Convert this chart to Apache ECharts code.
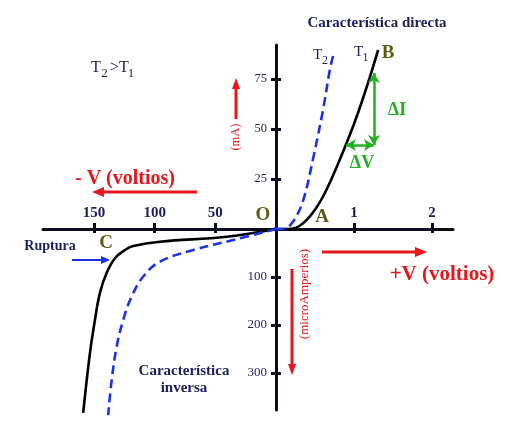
<!DOCTYPE html>
<html>
<head>
<meta charset="utf-8">
<script src="https://cdn.jsdelivr.net/npm/echarts@6/dist/echarts.min.js"></script>
<style>html,body{margin:0;padding:0;background:#fff}#c{width:515px;height:437px}</style>
</head>
<body>
<div id="c"></div>
<script>
// ---- Data ----
// Forward characteristic: voltage (V) vs current (mA)
const fwdV_T1 = [0, 0.14, 0.2, 0.3, 0.4, 0.5, 0.6, 0.7, 0.8, 0.9, 1.0, 1.1, 1.2, 1.31];
const fwdI_T1 = [0, 0, 0.1, 1.5, 4.8, 9.6, 16, 24, 33, 42.5, 52.5, 63.5, 75.5, 89.5];
const fwdV_T2 = [0, 0.094, 0.22, 0.35, 0.48, 0.61, 0.69, 0.735];
const fwdI_T2 = [0, 0, 3.7, 14.5, 36, 61, 79.5, 87];
// Reverse characteristic: voltage (V, magnitude) vs current (microA, magnitude)
const revV_T1 = [0, 40.6, 95.6, 117.6, 124.5, 132.7, 139.6, 145.1, 149.2, 153.3, 158.9];
const revI_T1 = [0, 16, 26.5, 35.4, 43.75, 61, 91.7, 133, 189.6, 258, 383];
const revV_T2 = [0, 35.2, 68.2, 95.6, 109.4, 119, 125.9, 131.3, 135.4, 138.3];
const revI_T2 = [0, 23, 43.75, 68, 99, 141, 189.6, 245, 314.6, 387.5];
// Delta arrows on T1 (forward)
const deltaV = [0.897, 1.256];
const deltaI = [42, 78];
// Tick labels
const fwdVTicks = [1, 2];
const fwdITicks = [25, 50, 75];
const revVTicks = [50, 100, 150];
const revITicks = [100, 200, 300];

const zip = (a, b) => a.map((v, i) => [v, b[i]]);

const NAVY = '#1c1c5e';
const AXIS = '#0b0b1e';
const OLIVE = '#5c5c16';
const RED = '#e8161b';
const GREEN = '#22b022';
const BLUE = '#1a33e0';
const SERIF = '"Liberation Serif", "DejaVu Serif", serif';

function xAx(grid, pos, min, max, ticks, opts) {
  return Object.assign({
    type: 'value', gridIndex: grid, position: pos, min: min, max: max,
    splitLine: { show: false },
    axisLine: { show: true, onZero: false, lineStyle: { color: AXIS, width: 3 } },
    axisTick: { show: true, customValues: ticks, length: 5, lineStyle: { color: AXIS, width: 3 } },
    axisLabel: { show: false }
  }, opts);
}

const chart = echarts.init(document.getElementById('c'), null, { renderer: 'canvas' });

const xLabelStyle = { color: NAVY, fontFamily: SERIF, fontWeight: 'bold', fontSize: 15, margin: 8 };
const yLabelStyle = { color: NAVY, fontFamily: SERIF, fontSize: 12.5, margin: 9 };

function arrow(x1, y1, x2, y2, color, w, hl, hw) {
  const dx = x2 - x1, dy = y2 - y1, L = Math.hypot(dx, dy);
  const ux = dx / L, uy = dy / L;
  const bx = x2 - ux * hl, by = y2 - uy * hl;
  return [
    { type: 'line', silent: true, shape: { x1: x1, y1: y1, x2: bx + ux, y2: by + uy }, style: { stroke: color, lineWidth: w } },
    { type: 'polygon', silent: true, shape: { points: [[x2, y2], [bx - uy * hw / 2, by + ux * hw / 2], [bx + uy * hw / 2, by - ux * hw / 2]] }, style: { fill: color } }
  ];
}
function txt(x, y, text, o) {
  return { type: 'text', silent: true, x: x, y: y, rotation: o.rotation || 0,
    style: Object.assign({ text: text, fontFamily: SERIF, textAlign: 'center', textVerticalAlign: 'middle', fill: NAVY, fontSize: 14 }, o.style || {}) };
}

const graphics = [].concat(
  [txt(377, 23, 'Característica directa', { style: { fontWeight: 'bold', fontSize: 15 } })],
  // T2 > T1
  [txt(91, 68, 'T', { style: { textAlign: 'left', fontSize: 16 } }),
   txt(104.5, 74, '2', { style: { fontSize: 13 } }),
   txt(110, 68, '>T', { style: { textAlign: 'left', fontSize: 16 } }),
   txt(131, 74, '1', { style: { fontSize: 13 } })],
  // T2 / T1 near curves
  [txt(313, 55, 'T', { style: { textAlign: 'left', fontSize: 15 } }),
   txt(325, 61, '2', { style: { fontSize: 12 } }),
   txt(354, 52, 'T', { style: { textAlign: 'left', fontSize: 15 } }),
   txt(365.5, 58, '1', { style: { fontSize: 12 } })],
  // points
  [txt(388, 53, 'B', { style: { fill: OLIVE, fontWeight: 'bold', fontSize: 19 } }),
   txt(263, 215, 'O', { style: { fill: OLIVE, fontWeight: 'bold', fontSize: 19 } }),
   txt(322, 217, 'A', { style: { fill: OLIVE, fontWeight: 'bold', fontSize: 19 } }),
   txt(106, 243, 'C', { style: { fill: OLIVE, fontWeight: 'bold', fontSize: 19 } })],
  // deltas
  [txt(397, 110, 'ΔI', { style: { fill: GREEN, fontWeight: 'bold', fontSize: 18 } }),
   txt(362, 163, 'ΔV', { style: { fill: GREEN, fontWeight: 'bold', fontSize: 18 } })],
  // mA
  [txt(236, 137, '(mA)', { rotation: Math.PI / 2, style: { fill: RED, fontSize: 12.5 } })],
  arrow(236, 119, 236, 78, RED, 3, 11, 8),
  // -V
  [txt(125, 179, '- V (voltios)', { style: { fill: RED, fontWeight: 'bold', fontSize: 20 } })],
  arrow(197, 192, 92, 192, RED, 3, 12, 10),
  // Ruptura
  [txt(50, 246, 'Ruptura', { style: { fontWeight: 'bold', fontSize: 14 } })],
  arrow(72, 260, 110, 260, BLUE, 2, 9, 8),
  // inversa
  [txt(184, 371, 'Característica', { style: { fontWeight: 'bold', fontSize: 15 } }),
   txt(184, 388, 'inversa', { style: { fontWeight: 'bold', fontSize: 15 } })],
  // microAmperios
  [txt(305, 294, '(microAmperios)', { rotation: Math.PI / 2, style: { fill: RED, fontSize: 13 } })],
  arrow(292, 269, 292, 375, RED, 3, 11, 8),
  // +V
  arrow(322, 252, 427, 252, RED, 3, 12, 10),
  [txt(442, 275, '+V (voltios)', { style: { fill: RED, fontWeight: 'bold', fontSize: 21 } })]
);

const option = {
  animation: false,
  backgroundColor: '#ffffff',
  grid: [
    { left: 276, top: 45, width: 177, height: 184 },
    { left: 43, top: 229, width: 233, height: 181 }
  ],
  xAxis: [
    xAx(0, 'bottom', 0, 2.27, fwdVTicks, {
      axisTick: { show: true, customValues: fwdVTicks, length: 4, lineStyle: { color: AXIS, width: 3 } },
      axisLabel: Object.assign({ show: true, inside: true, customValues: fwdVTicks }, xLabelStyle)
    }),
    xAx(0, 'bottom', 0, 2.27, fwdVTicks, {
      axisLine: { show: false, onZero: false },
      axisTick: { show: true, inside: true, customValues: fwdVTicks, length: 6, lineStyle: { color: AXIS, width: 3 } }
    }),
    xAx(1, 'top', 0, 192, revVTicks, {
      inverse: true,
      axisTick: { show: true, customValues: revVTicks, length: 6, lineStyle: { color: AXIS, width: 3 } },
      axisLabel: Object.assign({ show: true, customValues: revVTicks }, xLabelStyle)
    }),
    xAx(1, 'top', 0, 192, revVTicks, {
      inverse: true,
      axisLine: { show: false, onZero: false },
      axisTick: { show: true, inside: true, customValues: revVTicks, length: 4, lineStyle: { color: AXIS, width: 3 } }
    })
  ],
  yAxis: [
    xAx(0, 'left', 0, 92, fwdITicks, {
      axisTick: { show: true, customValues: fwdITicks, length: 5, lineStyle: { color: AXIS, width: 3 } },
      axisLabel: Object.assign({ show: true, customValues: fwdITicks }, yLabelStyle)
    }),
    xAx(0, 'left', 0, 92, fwdITicks, {
      axisLine: { show: false, onZero: false },
      axisTick: { show: true, inside: true, customValues: fwdITicks, length: 5, lineStyle: { color: AXIS, width: 3 } }
    }),
    xAx(1, 'right', 0, 377, revITicks, {
      inverse: true,
      axisTick: { show: true, customValues: revITicks, length: 5, lineStyle: { color: AXIS, width: 3 } },
      axisLabel: Object.assign({ show: true, inside: true, customValues: revITicks }, yLabelStyle, { fontSize: 13 })
    }),
    xAx(1, 'right', 0, 377, revITicks, {
      inverse: true,
      axisLine: { show: false, onZero: false },
      axisTick: { show: true, inside: true, customValues: revITicks, length: 5, lineStyle: { color: AXIS, width: 3 } }
    })
  ],
  series: [
    {
      name: 'T1 directa', type: 'line', xAxisIndex: 0, yAxisIndex: 0,
      data: zip(fwdV_T1, fwdI_T1), showSymbol: false, symbol: 'none', smooth: 0.35, clip: false,
      lineStyle: { color: '#000', width: 2.6 },
      markLine: {
        silent: true, symbol: ['arrow', 'arrow'], symbolSize: [9, 10], precision: 3,
        label: { show: false },
        lineStyle: { color: GREEN, width: 2.5, type: 'solid' },
        data: [
          [{ coord: [deltaV[1], deltaI[0]] }, { coord: [deltaV[1], deltaI[1]] }],
          [{ coord: [deltaV[0], deltaI[0]] }, { coord: [deltaV[1], deltaI[0]] }]
        ]
      }
    },
    {
      name: 'T2 directa', type: 'line', xAxisIndex: 0, yAxisIndex: 0,
      data: zip(fwdV_T2, fwdI_T2), showSymbol: false, symbol: 'none', smooth: 0.35, clip: false,
      lineStyle: { color: BLUE, width: 2.6, type: [9, 5] }
    },
    {
      name: 'T1 inversa', type: 'line', xAxisIndex: 2, yAxisIndex: 2,
      data: zip(revV_T1, revI_T1), showSymbol: false, symbol: 'none', smooth: 0.4, clip: false,
      lineStyle: { color: '#000', width: 2.6 }
    },
    {
      name: 'T2 inversa', type: 'line', xAxisIndex: 2, yAxisIndex: 2,
      data: zip(revV_T2, revI_T2), showSymbol: false, symbol: 'none', smooth: 0.4, clip: false,
      lineStyle: { color: BLUE, width: 2.6, type: [9, 5] }
    },
    {
      name: 'O', type: 'scatter', xAxisIndex: 0, yAxisIndex: 0,
      data: [[0, 0]], symbolSize: 5, itemStyle: { color: BLUE }, silent: true
    }
  ],
  graphic: graphics
};
chart.setOption(option);
</script>
</body>
</html>
